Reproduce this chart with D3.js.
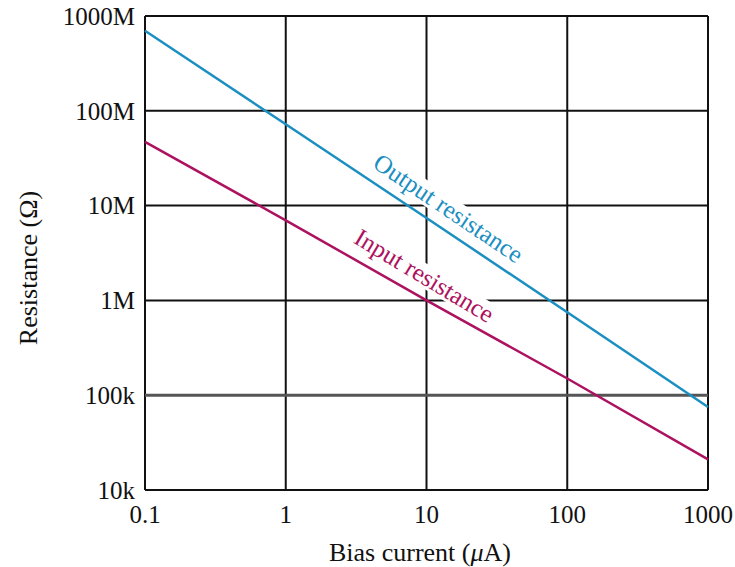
<!DOCTYPE html>
<html>
<head>
<meta charset="utf-8">
<script src="https://cdn.jsdelivr.net/npm/d3@7"></script>
<style>
  body { margin: 0; background: #fff; }
  text { font-family: "Liberation Serif", "DejaVu Serif", serif; fill: #111; }
</style>
</head>
<body>
<script>
// bias current in uA, resistance in ohms
var biasCurrent = [0.1, 1, 10, 100, 1000];
var outputResistance = [7.0e8, 7.2e7, 7.4e6, 7.5e5, 7.5e4];
var inputResistance = [4.7e7, 7.0e6, 1.0e6, 1.5e5, 2.1e4];

var xTicks = [0.1, 1, 10, 100, 1000];
var xTickLabels = ["0.1", "1", "10", "100", "1000"];
var yTicks = [1e4, 1e5, 1e6, 1e7, 1e8, 1e9];
var yTickLabels = ["10k", "100k", "1M", "10M", "100M", "1000M"];

var margin = {top: 16, right: 27, bottom: 77, left: 145}
  , width = 735 - margin.left - margin.right
  , height = 567 - margin.top - margin.bottom;

var xScale = d3.scaleLog()
    .domain([0.1, 1000])
    .range([0, width]);

var yScale = d3.scaleLog()
    .domain([1e4, 1e9])
    .range([height, 0]);

var svg = d3.select("body").append("svg")
    .attr("width", 735)
    .attr("height", 567)
  .append("g")
    .attr("transform", "translate(" + margin.left + "," + margin.top + ")");

// grid lines
svg.append("g")
    .selectAll("line")
    .data(xTicks)
  .enter().append("line")
    .attr("x1", function(d) { return xScale(d); })
    .attr("x2", function(d) { return xScale(d); })
    .attr("y1", 0)
    .attr("y2", height)
    .attr("stroke", "#111")
    .attr("stroke-width", 2);

svg.append("g")
    .selectAll("line")
    .data(yTicks)
  .enter().append("line")
    .attr("x1", 0)
    .attr("x2", width)
    .attr("y1", function(d) { return yScale(d); })
    .attr("y2", function(d) { return yScale(d); })
    .attr("stroke", function(d) { return d === 1e5 ? "#555" : "#111"; })
    .attr("stroke-width", function(d) { return d === 1e5 ? 3 : 2; });

// tick labels
svg.append("g")
    .selectAll("text")
    .data(yTicks)
  .enter().append("text")
    .attr("x", -10)
    .attr("y", function(d) { return yScale(d); })
    .attr("dy", "0.35em")
    .attr("text-anchor", "end")
    .style("font-size", "25px")
    .text(function(d, i) { return yTickLabels[i]; });

svg.append("g")
    .selectAll("text")
    .data(xTicks)
  .enter().append("text")
    .attr("x", function(d) { return xScale(d); })
    .attr("y", height + 33)
    .attr("text-anchor", "middle")
    .style("font-size", "25px")
    .text(function(d, i) { return xTickLabels[i]; });

// axis titles
var xTitle = svg.append("text")
    .attr("x", 275)
    .attr("y", height + 71)
    .attr("text-anchor", "middle")
    .style("font-size", "26px");
xTitle.append("tspan").text("Bias current (");
xTitle.append("tspan").style("font-style", "italic").text("\u03BC");
xTitle.append("tspan").text("A)");

svg.append("text")
    .attr("transform", "translate(" + (-117) + "," + (height / 2 + 15) + ") rotate(-90)")
    .attr("dy", "0.35em")
    .attr("text-anchor", "middle")
    .style("font-size", "26px")
    .text("Resistance (\u03A9)");

// line labels: white box hides the grid behind the text
var bgLayer = svg.append("g");
var lineLayer = svg.append("g");
var labelLayer = svg.append("g");

function lineLabel(txt, xVal, yVal, angle, color, dx, dy) {
    var tr = "translate(" + (xScale(xVal) + dx) + "," + (yScale(yVal) + dy) + ") rotate(" + angle + ")";
    var t = labelLayer.append("text")
        .attr("transform", tr)
        .attr("dy", "0.35em")
        .attr("text-anchor", "middle")
        .style("font-size", "25px")
        .style("fill", color)
        .text(txt);
    var bb = t.node().getBBox();
    bgLayer.append("rect")
        .attr("transform", tr)
        .attr("x", bb.x - 3)
        .attr("y", bb.y + 2)
        .attr("width", bb.width + 6)
        .attr("height", bb.height - 4)
        .attr("fill", "#fff");
}

lineLabel("Output resistance", 10, 7.4e6, 34, "#1b8fc1", 22, -10);
lineLabel("Input resistance", 10, 1.0e6, 31, "#ad1260", -2, -25);

// resistance lines
var outputData = biasCurrent.map(function(d, i) { return {x: d, y: outputResistance[i]}; });
var inputData = biasCurrent.map(function(d, i) { return {x: d, y: inputResistance[i]}; });

var line = d3.line()
    .x(function(d) { return xScale(d.x); })
    .y(function(d) { return yScale(d.y); });

lineLayer.append("path")
    .datum(outputData)
    .attr("d", line)
    .attr("fill", "none")
    .attr("stroke", "#1b8fc1")
    .attr("stroke-width", 2.5);

lineLayer.append("path")
    .datum(inputData)
    .attr("d", line)
    .attr("fill", "none")
    .attr("stroke", "#ad1260")
    .attr("stroke-width", 2.5);
</script>
</body>
</html>
